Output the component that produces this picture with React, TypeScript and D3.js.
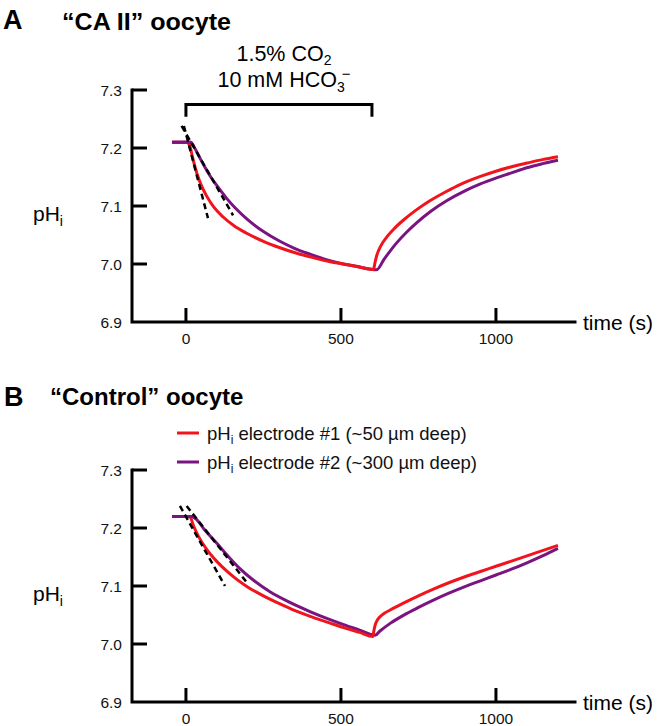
import React from "react";
import * as d3 from "d3";

// ---------- DATA ----------
const yTicks = [7.3, 7.2, 7.1, 7.0, 6.9];
const xTicks = [0, 500, 1000];
const pulseStart = 0;
const pulseEnd = 600;

// Panel A ("CA II" oocyte)
const caRedT = [-45, 0, 8, 13, 20, 28, 35, 50, 67, 90, 120, 155, 196, 250, 303, 360, 410, 465, 518, 560, 605, 609, 614, 622, 635, 650, 670, 700, 740, 787, 840, 884, 950, 1000, 1060, 1100, 1150, 1200];
const caRedPH = [7.21, 7.21, 7.208, 7.203, 7.187, 7.17, 7.157, 7.135, 7.117, 7.098, 7.081, 7.066, 7.053, 7.039, 7.028, 7.018, 7.011, 7.004, 6.999, 6.9945, 6.9905, 7.0, 7.012, 7.024, 7.037, 7.048, 7.06, 7.075, 7.092, 7.109, 7.125, 7.137, 7.151, 7.16, 7.169, 7.174, 7.18, 7.185];
const caPurT = [-45, 15, 25, 40, 60, 80, 100, 130, 160, 200, 250, 300, 350, 400, 450, 500, 550, 615, 640, 679, 710, 744, 790, 841, 900, 950, 1000, 1050, 1100, 1150, 1200];
const caPurPH = [7.21, 7.21, 7.203, 7.188, 7.168, 7.15, 7.135, 7.114, 7.096, 7.076, 7.056, 7.04, 7.027, 7.017, 7.008, 7.001, 6.996, 6.99, 7.009, 7.036, 7.054, 7.071, 7.091, 7.109, 7.126, 7.138, 7.148, 7.157, 7.166, 7.173, 7.179];
const caDash1 = [[-6.5, 7.238], [71, 7.079]];
const caDash2 = [[-14, 7.238], [152, 7.084]];

// Panel B ("Control" oocyte)
const ctRedT = [-45, 5, 13, 25, 40, 67, 100, 131, 165, 200, 250, 300, 350, 410, 465, 516, 560, 603, 606, 610, 616, 626, 640, 660, 700, 750, 800, 850, 900, 950, 1000, 1050, 1100, 1150, 1200];
const ctRedPH = [7.22, 7.22, 7.219, 7.203, 7.186, 7.163, 7.142, 7.126, 7.111, 7.098, 7.083, 7.07, 7.058, 7.046, 7.036, 7.027, 7.02, 7.013, 7.022, 7.032, 7.04, 7.047, 7.053, 7.059, 7.07, 7.083, 7.095, 7.106, 7.116, 7.125, 7.134, 7.143, 7.152, 7.161, 7.17];
const ctPurT = [-45, 20, 34, 60, 99, 135, 174, 220, 271, 330, 400, 465, 516, 560, 610, 625, 660, 700, 750, 800, 850, 900, 950, 1000, 1050, 1100, 1150, 1200];
const ctPurPH = [7.22, 7.22, 7.215, 7.197, 7.174, 7.152, 7.13, 7.109, 7.09, 7.073, 7.056, 7.042, 7.032, 7.024, 7.015, 7.022, 7.036, 7.049, 7.063, 7.076, 7.088, 7.099, 7.109, 7.119, 7.129, 7.14, 7.152, 7.165];
const ctDash1 = [[-19.4, 7.238], [126, 7.1]];
const ctDash2 = [[2.2, 7.238], [201, 7.103]];

const legendLabels = [
  { pre: "pH", sub: "i", post: " electrode #1 (~50 µm deep)" },
  { pre: "pH", sub: "i", post: " electrode #2 (~300 µm deep)" },
];

// ---------- STYLE ----------
const FONT = "'Liberation Sans', Arial, Helvetica, sans-serif";
const RED = "#f2141c";
const PURPLE = "#7a1480";

const xScale = d3.scaleLinear().domain([-174, 1255]).range([132, 575]);

function Panel({ top, red, pur, dash1, dash2 }: any) {
  const y = d3.scaleLinear().domain([6.9, 7.3]).range([top + 232, top]);
  const line = d3
    .line<[number, number]>()
    .x((d) => xScale(d[0]))
    .y((d) => y(d[1]))
    .curve(d3.curveMonotoneX);
  const straight = d3
    .line<number[]>()
    .x((d) => xScale(d[0]))
    .y((d) => y(d[1]));
  const x0 = xScale.range()[0];
  const x1 = xScale.range()[1];
  const yb = y(6.9);
  const redPts = red[0].map((t: number, i: number) => [t, red[1][i]]);
  const purPts = pur[0].map((t: number, i: number) => [t, pur[1][i]]);
  return (
    <g>
      <path d={line(purPts) || ""} fill="none" stroke={PURPLE} strokeWidth={3} strokeLinejoin="round" />
      <path d={line(redPts) || ""} fill="none" stroke={RED} strokeWidth={3} strokeLinejoin="round" />
      <path d={line(purPts.filter((p: number[]) => p[0] < 40)) || ""} fill="none" stroke={PURPLE} strokeWidth={3} />
      <path d={straight(dash1) || ""} fill="none" stroke="#000" strokeWidth={2.5} strokeDasharray="6,4" />
      <path d={straight(dash2) || ""} fill="none" stroke="#000" strokeWidth={2.5} strokeDasharray="6,4" />
      <path
        d={`M${x0},${y(7.3)}V${yb}H${x1}`}
        fill="none"
        stroke="#000"
        strokeWidth={3}
        strokeLinecap="square"
      />
      {yTicks.slice(0, 4).map((v) => (
        <line key={v} x1={x0} x2={x0 + 15} y1={y(v)} y2={y(v)} stroke="#000" strokeWidth={3} />
      ))}
      {xTicks.map((v) => (
        <line key={v} x1={xScale(v)} x2={xScale(v)} y1={yb} y2={yb - 14} stroke="#000" strokeWidth={3} />
      ))}
      {yTicks.map((v) => (
        <text key={v} x={122} y={y(v)} dy="0.36em" textAnchor="end" fontSize={15.5} fontFamily={FONT} fill="#111">
          {v.toFixed(1)}
        </text>
      ))}
      {xTicks.map((v) => (
        <text key={v} x={xScale(v)} y={yb + 21.5} textAnchor="middle" fontSize={15.5} fontFamily={FONT} fill="#111">
          {v}
        </text>
      ))}
      <text x={583} y={yb + 8} fontSize={21} fontFamily={FONT} fill="#000">
        time (s)
      </text>
      <text x={33} y={y(7.085) + 6} fontSize={21} fontFamily={FONT} fill="#000">
        pH
        <tspan fontSize={14} dy={5}>i</tspan>
      </text>
    </g>
  );
}

export default function App() {
  const yA = d3.scaleLinear().domain([6.9, 7.3]).range([322, 90]);
  return (
    <svg
      width={657}
      height={726}
      style={{ position: "absolute", left: 0, top: 0, background: "#fff" }}
      fontFamily={FONT}
    >
      <rect width={657} height={726} fill="#fff" />
      <text x={3} y={29} fontSize={27} fontWeight="bold" fill="#000">A</text>
      <text x={62} y={30} fontSize={23} fontWeight="bold" fill="#000" textLength={169} lengthAdjust="spacingAndGlyphs">“CA II” oocyte</text>
      <text x={284} y={61} textAnchor="middle" fontSize={21.5} fill="#000">
        1.5% CO<tspan fontSize={14} dy={4}>2</tspan>
      </text>
      <text x={284} y={87} textAnchor="middle" fontSize={21.5} fill="#000">
        10 mM HCO<tspan fontSize={14} dy={5}>3</tspan>
        <tspan fontSize={15} dx={-3} dy={-13}>−</tspan>
      </text>
      <path
        d={`M${xScale(pulseStart)},${yA(7.254)}V${yA(7.275)}H${xScale(pulseEnd)}V${yA(7.254)}`}
        fill="none"
        stroke="#000"
        strokeWidth={3}
      />
      <Panel top={90} red={[caRedT, caRedPH]} pur={[caPurT, caPurPH]} dash1={caDash1} dash2={caDash2} />

      <text x={4} y={406} fontSize={27} fontWeight="bold" fill="#000">B</text>
      <text x={50} y={405} fontSize={24} fontWeight="bold" fill="#000">“Control” oocyte</text>
      {legendLabels.map((l, i) => (
        <g key={i}>
          <line x1={177} x2={199} y1={433 + i * 29} y2={433 + i * 29} stroke={i === 0 ? RED : PURPLE} strokeWidth={3} />
          <text x={207} y={440 + i * 29} fontSize={18.5} fill="#111">
            {l.pre}
            <tspan fontSize={12} dy={4}>{l.sub}</tspan>
            <tspan dy={-4}>{l.post}</tspan>
          </text>
        </g>
      ))}
      <Panel top={470} red={[ctRedT, ctRedPH]} pur={[ctPurT, ctPurPH]} dash1={ctDash1} dash2={ctDash2} />
    </svg>
  );
}
